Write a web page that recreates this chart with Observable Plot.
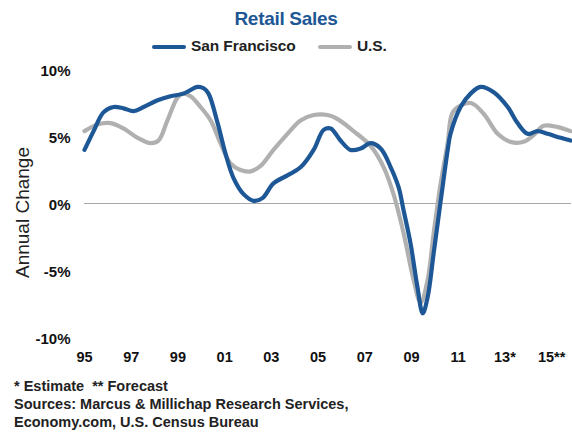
<!DOCTYPE html>
<html>
<head>
<meta charset="utf-8">
<script src="https://cdn.jsdelivr.net/npm/d3@7"></script>
<script src="https://cdn.jsdelivr.net/npm/@observablehq/plot@0.6"></script>
<style>
  html, body { margin: 0; padding: 0; background: #fff; }
  body { width: 572px; height: 433px; position: relative; overflow: hidden; font-family: "Liberation Sans", Arial, sans-serif; }
  #title { position: absolute; top: 8px; left: 0; width: 572px; text-align: center; font-size: 19px; font-weight: bold; color: #1d5796; letter-spacing: -0.3px; }
  #legend { position: absolute; top: 36px; left: 0; width: 572px; height: 20px; }
  .sw { position: absolute; top: 9px; height: 4px; border-radius: 2px; }
  .lt { position: absolute; top: 0; font-size: 15.5px; font-weight: bold; color: #222; letter-spacing: -0.1px; line-height: 20px; }
  #chart { position: absolute; top: 60px; left: 0; }
  #notes { position: absolute; top: 377px; left: 14px; font-size: 14.5px; font-weight: bold; line-height: 18px; color: #222; letter-spacing: 0px; }
</style>
</head>
<body>
<div id="title">Retail Sales</div>
<div id="legend">
  <div class="sw" style="left:152px;width:34px;background:#1d5796"></div>
  <div class="lt" style="left:191px">San Francisco</div>
  <div class="sw" style="left:318px;width:34px;background:#b0b0b1"></div>
  <div class="lt" style="left:357px">U.S.</div>
</div>
<div id="chart"></div>
<div id="notes">* Estimate &nbsp;** Forecast<br>Sources: Marcus &amp; Millichap Research Services,<br>Economy.com, U.S. Census Bureau</div>
<script>
// San Francisco: annual change in retail sales (%)
const sfYear = [1995.0,1995.39,1995.81,1996.24,1996.67,1997.1,1997.53,1998.13,1998.68,1999.24,1999.84,2000.1,2000.31,2000.7,2001.04,2001.38,2001.81,2002.24,2002.62,2003.09,2003.69,2004.25,2004.81,2005.24,2005.54,2005.96,2006.39,2006.82,2007.25,2007.68,2008.11,2008.45,2008.66,2008.96,2009.26,2009.48,2009.69,2009.95,2010.25,2010.55,2010.67,2011.1,2011.53,2011.96,2012.52,2013.12,2013.54,2013.97,2014.4,2014.83,2015.39,2015.81];
const sfValue = [4.0,5.4,6.8,7.2,7.1,6.9,7.2,7.7,8.0,8.2,8.7,8.6,8.2,6.0,3.7,1.9,0.7,0.2,0.4,1.5,2.1,2.7,4.0,5.5,5.6,4.7,4.0,4.1,4.5,4.1,2.7,1.2,-0.5,-3.0,-6.3,-8.2,-7.0,-3.7,0.2,4.0,5.2,7.2,8.2,8.7,8.3,7.2,6.0,5.2,5.4,5.2,4.9,4.7];
// U.S.: annual change in retail sales (%)
const usYear = [1995.0,1995.56,1996.11,1996.67,1997.27,1997.83,1998.17,1998.55,1998.98,1999.2,1999.54,1999.97,2000.4,2000.82,2001.25,2001.68,2002.11,2002.54,2003.09,2003.69,2004.25,2004.81,2005.41,2005.84,2006.52,2007.25,2007.81,2008.23,2008.66,2009.09,2009.39,2009.69,2009.95,2010.25,2010.55,2010.8,2011.53,2012.09,2012.69,2013.24,2013.8,2014.23,2014.66,2015.26,2015.81];
const usValue = [5.4,5.9,6.0,5.6,4.9,4.5,4.7,6.2,7.9,8.2,8.0,7.2,6.2,4.5,3.0,2.5,2.4,2.8,4.0,5.2,6.2,6.6,6.6,6.3,5.4,4.3,2.7,0.7,-2.2,-5.7,-7.4,-5.7,-2.2,1.5,4.5,6.9,7.5,6.7,5.2,4.6,4.6,5.1,5.8,5.7,5.4];
// axis ticks
const xTicks = [1995,1997,1999,2001,2003,2005,2007,2009,2011,2013,2015];
const xTickLabels = ["95","97","99","01","03","05","07","09","11","13*","15**"];
const yTicks = [-10,-5,0,5,10];
const yTickLabels = ["-10%","-5%","0%","5%","10%"];
const yTitle = "Annual Change";

const sf = sfYear.map((x, i) => ({x, y: sfValue[i]}));
const us = usYear.map((x, i) => ({x, y: usValue[i]}));

const chart = Plot.plot({
  width: 572,
  height: 310,
  marginLeft: 84,
  marginRight: 1,
  marginTop: 9,
  marginBottom: 33,
  style: {fontFamily: "Liberation Sans, Arial, sans-serif", color: "#111", background: "transparent"},
  x: {domain: [1995, 2015.85]},
  y: {domain: [-10, 10]},
  marks: [
    Plot.ruleY([0], {stroke: "#a8a8a8", strokeWidth: 1.2}),
    Plot.line(us, {x: "x", y: "y", stroke: "#b0b0b1", strokeWidth: 4.2, curve: "catmull-rom"}),
    Plot.line(sf, {x: "x", y: "y", stroke: "#1d5796", strokeWidth: 4.2, curve: "catmull-rom"}),
    Plot.axisX({ticks: xTicks, tickFormat: d => xTickLabels[xTicks.indexOf(d)], tickSize: 0, tickPadding: 14, fontSize: 14.5, fontWeight: "bold", label: null}),
    Plot.axisY({ticks: yTicks, tickFormat: d => yTickLabels[yTicks.indexOf(d)], tickSize: 0, tickPadding: 14, dy: 2, fontSize: 15, fontWeight: "bold", label: null}),
    Plot.text([yTitle], {frameAnchor: "left", textAnchor: "middle", dx: -62, dy: 9, rotate: -90, text: d => d, fontSize: 19, fill: "#222"})
  ]
});
document.getElementById("chart").appendChild(chart);
</script>
</body>
</html>
